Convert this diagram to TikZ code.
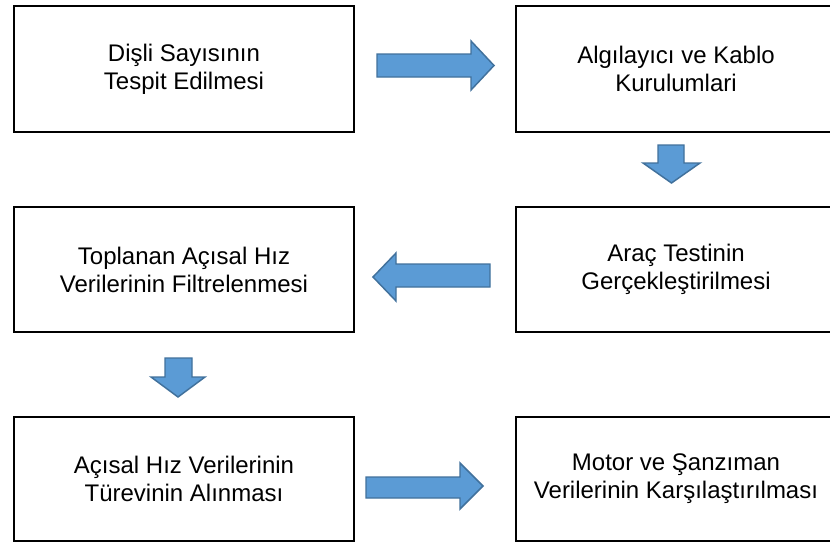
\documentclass[tikz,border=0pt]{standalone}
\usepackage{fontspec}
\setmainfont{Liberation Sans}
\definecolor{arrowfill}{HTML}{5B9BD5}
\definecolor{arrowline}{HTML}{41719C}
\begin{document}
\begin{tikzpicture}[x=0.75pt,y=-0.75pt,
  stepbox/.style={draw=black, line width=2pt, rectangle, inner sep=0pt, align=center,
    font=\fontsize{18}{21}\selectfont},
  leftbox/.style={stepbox, minimum width=255pt},
  rightbox/.style={stepbox, minimum width=240pt},
  blockarrow/.style={fill=arrowfill, draw=arrowline, line width=1.1pt, line join=miter}]
\useasboundingbox (0,0) rectangle (830,544);
\clip (0,0) rectangle (830,544);
\fill[white] (0,0) rectangle (830,544);
% boxes
\node[leftbox, minimum height=94.5pt] (b1) at (184,69) {Dişli Sayısının\\Tespit Edilmesi};
\node[rightbox, minimum height=94.5pt] (b2) at (676,69) {Algılayıcı ve Kablo\\Kurulumlari};
\node[rightbox, minimum height=93.75pt] (b3) at (676,269.5) {Araç Testinin\\Gerçekleştirilmesi};
\node[leftbox, minimum height=93.75pt] (b4) at (184,269.5) {Toplanan Açısal Hız\\Verilerinin Filtrelenmesi};
\node[leftbox, minimum height=93pt] (b5) at (184,479) {Açısal Hız Verilerinin\\Türevinin Alınması};
\node[rightbox, minimum height=93pt] (b6) at (676,479) {Motor ve Şanzıman\\Verilerinin Karşılaştırılması};
% block arrows
\draw[blockarrow] (377,54) -- (471,54) -- (471,41) -- (494,65.5) -- (471,90) -- (471,77) -- (377,77) -- cycle;
\draw[blockarrow] (658,145) -- (684,145) -- (684,163) -- (700,163) -- (671.5,183) -- (643,163) -- (658,163) -- cycle;
\draw[blockarrow] (373,277) -- (396,253) -- (396,264) -- (490,264) -- (490,287) -- (396,287) -- (396,301) -- cycle;
\draw[blockarrow] (165,358) -- (192,358) -- (192,377) -- (205,377) -- (178,397) -- (151,377) -- (165,377) -- cycle;
\draw[blockarrow] (366,477) -- (460,477) -- (460,463) -- (483,486) -- (460,509) -- (460,498) -- (366,498) -- cycle;
\end{tikzpicture}
\end{document}
